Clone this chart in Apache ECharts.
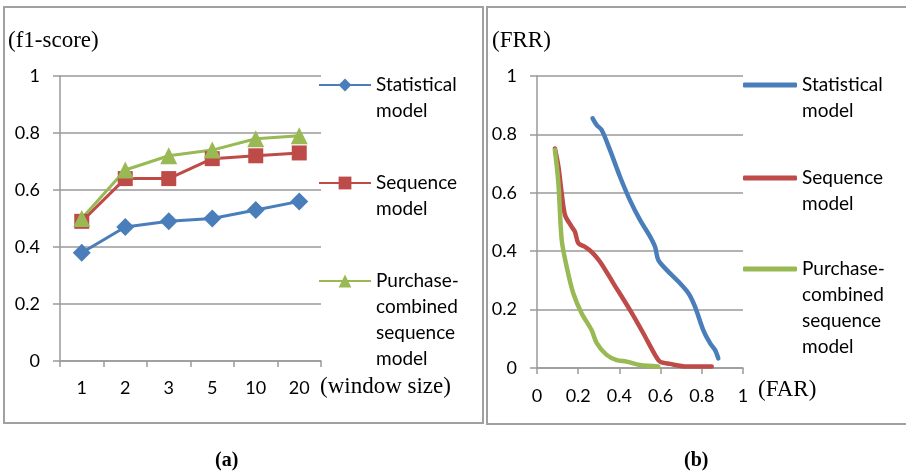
<!DOCTYPE html>
<html><head><meta charset="utf-8">
<script src="https://cdn.jsdelivr.net/npm/echarts@6/dist/echarts.min.js"></script>
<style>html,body{margin:0;padding:0;background:#fff}#c{width:906px;height:474px}</style>
</head><body><div id="c"></div>
<script>
// ---- Panel (a): f1-score vs window size ----
const windowSizes = ['1', '2', '3', '5', '10', '20'];
const statF1 = [0.38, 0.47, 0.49, 0.50, 0.53, 0.56];
const seqF1 = [0.49, 0.64, 0.64, 0.71, 0.72, 0.73];
const purF1 = [0.50, 0.67, 0.72, 0.74, 0.78, 0.79];

// ---- Panel (b): FRR vs FAR curves, [FAR, FRR] ----
const statCurve = [[0.270,0.855],[0.290,0.832],[0.314,0.815],[0.354,0.747],[0.403,0.655],[0.451,0.575],[0.500,0.507],[0.549,0.450],[0.573,0.415],[0.589,0.370],[0.629,0.336],[0.686,0.296],[0.735,0.256],[0.767,0.210],[0.807,0.130],[0.840,0.085],[0.864,0.062],[0.880,0.033]];
const seqCurve = [[0.087,0.752],[0.104,0.690],[0.120,0.598],[0.136,0.524],[0.168,0.484],[0.184,0.467],[0.201,0.427],[0.233,0.415],[0.265,0.398],[0.306,0.364],[0.371,0.290],[0.451,0.199],[0.516,0.119],[0.573,0.045],[0.597,0.022],[0.646,0.014],[0.727,0.005],[0.848,0.005]];
const purCurve = [[0.087,0.747],[0.104,0.632],[0.120,0.438],[0.144,0.347],[0.176,0.256],[0.217,0.187],[0.265,0.130],[0.290,0.085],[0.338,0.045],[0.387,0.027],[0.435,0.022],[0.500,0.010],[0.589,0.005]];

const seriesNames = ['Statistical model', 'Sequence model', 'Purchase-combined sequence model'];
const legendLabels = ['\nStatistical\nmodel', '\nSequence\nmodel', '\n\n\nPurchase-\ncombined\nsequence\nmodel'];

const BLUE = '#4A7EBB', RED = '#BE4B48', GREEN = '#98B954';
const GRID = '#9a9a9a';
const SANS = 'Lato';

const chart = echarts.init(document.getElementById('c'));

function yAx(gridIndex, margin) {
  return {
    type: 'value', gridIndex, min: 0, max: 1, interval: 0.2,
    axisLine: { show: true, lineStyle: { color: GRID, width: 1.5 } },
    axisTick: { show: true, length: 7, lineStyle: { color: GRID, width: 1.5 } },
    splitLine: { show: true, lineStyle: { color: GRID, width: 1.5 } },
    axisLabel: { color: '#000', fontFamily: SANS, fontSize: 18, margin }
  };
}

const nameA = n => n + ' (a)';
const nameB = n => n + ' (b)';
const labelOf = {};
seriesNames.forEach((n, i) => { labelOf[nameA(n)] = legendLabels[i]; labelOf[nameB(n)] = legendLabels[i]; });

function legend(name, left, top, w, icon, h) {
  const item = icon ? { name, icon } : { name };
  return {
    data: [item], left, top, padding: 0, orient: 'vertical',
    itemWidth: w, itemHeight: h || 16, selectedMode: false,
    formatter: n => labelOf[n],
    textStyle: { color: '#000', fontFamily: SANS, fontSize: 19, lineHeight: 26 }
  };
}

const option = {
  animation: false,
  grid: [
    { left: 60, top: 76, width: 261, height: 285 },
    { left: 537, top: 76, width: 206, height: 292 }
  ],
  xAxis: [
    {
      type: 'category', gridIndex: 0, data: windowSizes, boundaryGap: true,
      axisLine: { lineStyle: { color: GRID, width: 1.5 } },
      axisTick: { show: true, length: 6, lineStyle: { color: GRID, width: 1.5 } },
      splitLine: { show: false },
      axisLabel: { color: '#000', fontFamily: SANS, fontSize: 18, margin: 18 }
    },
    {
      type: 'value', gridIndex: 1, min: 0, max: 1, interval: 0.2,
      axisLine: { show: true, lineStyle: { color: GRID, width: 1.5 } },
      axisTick: { show: true, length: 6, lineStyle: { color: GRID, width: 1.5 } },
      splitLine: { show: false },
      axisLabel: { color: '#000', fontFamily: SANS, fontSize: 18, margin: 19 }
    }
  ],
  yAxis: [yAx(0, 20), yAx(1, 20)],
  legend: [
    legend(nameA(seriesNames[0]), 318, 46, 52),
    legend(nameA(seriesNames[1]), 318, 144, 52),
    legend(nameA(seriesNames[2]), 318, 190, 52),
    legend(nameB(seriesNames[0]), 743, 46, 54, 'roundRect', 5),
    legend(nameB(seriesNames[1]), 743, 139, 54, 'roundRect', 5),
    legend(nameB(seriesNames[2]), 743, 178, 54, 'roundRect', 5)
  ],
  series: [
    { name: nameA(seriesNames[0]), type: 'line', xAxisIndex: 0, yAxisIndex: 0, data: statF1,
      symbol: 'diamond', symbolSize: 18, lineStyle: { color: BLUE, width: 3 }, itemStyle: { color: BLUE } },
    { name: nameA(seriesNames[1]), type: 'line', xAxisIndex: 0, yAxisIndex: 0, data: seqF1,
      symbol: 'rect', symbolSize: 15, lineStyle: { color: RED, width: 3 }, itemStyle: { color: RED } },
    { name: nameA(seriesNames[2]), type: 'line', xAxisIndex: 0, yAxisIndex: 0, data: purF1,
      symbol: 'triangle', symbolSize: 17, lineStyle: { color: GREEN, width: 3 }, itemStyle: { color: GREEN } },
    { name: nameB(seriesNames[0]), type: 'line', xAxisIndex: 1, yAxisIndex: 1, data: statCurve,
      symbol: 'none', smooth: 0.3, lineStyle: { color: BLUE, width: 4.5, cap: 'round' }, itemStyle: { color: BLUE } },
    { name: nameB(seriesNames[1]), type: 'line', xAxisIndex: 1, yAxisIndex: 1, data: seqCurve,
      symbol: 'none', smooth: 0.3, lineStyle: { color: RED, width: 4.5, cap: 'round' }, itemStyle: { color: RED } },
    { name: nameB(seriesNames[2]), type: 'line', xAxisIndex: 1, yAxisIndex: 1, data: purCurve,
      symbol: 'none', smooth: 0.3, lineStyle: { color: GREEN, width: 4.5, cap: 'round' }, itemStyle: { color: GREEN } }
  ],
  graphic: [
    { type: 'rect', shape: { x: 4, y: 7, width: 479, height: 416 }, style: { fill: 'none', stroke: '#a0a0a0', lineWidth: 2 }, silent: true },
    { type: 'rect', shape: { x: 487, y: 7, width: 430, height: 417 }, style: { fill: 'none', stroke: '#a0a0a0', lineWidth: 2 }, silent: true },
    { type: 'text', left: 8, top: 29, style: { text: '(f1-score)', font: '23px "Liberation Serif"', fill: '#000' } },
    { type: 'text', left: 320, top: 375, style: { text: '(window size)', font: '23px "Liberation Serif"', fill: '#000' } },
    { type: 'text', left: 492, top: 29, style: { text: '(FRR)', font: '23px "Liberation Serif"', fill: '#000' } },
    { type: 'text', left: 758, top: 378, style: { text: '(FAR)', font: '23px "Liberation Serif"', fill: '#000' } },
    { type: 'text', left: 215, top: 451, style: { text: '(a)', font: 'bold 20px "Liberation Serif"', fill: '#000' } },
    { type: 'text', left: 684, top: 451, style: { text: '(b)', font: 'bold 20px "Liberation Serif"', fill: '#000' } }
  ]
};
chart.setOption(option);
</script></body></html>
